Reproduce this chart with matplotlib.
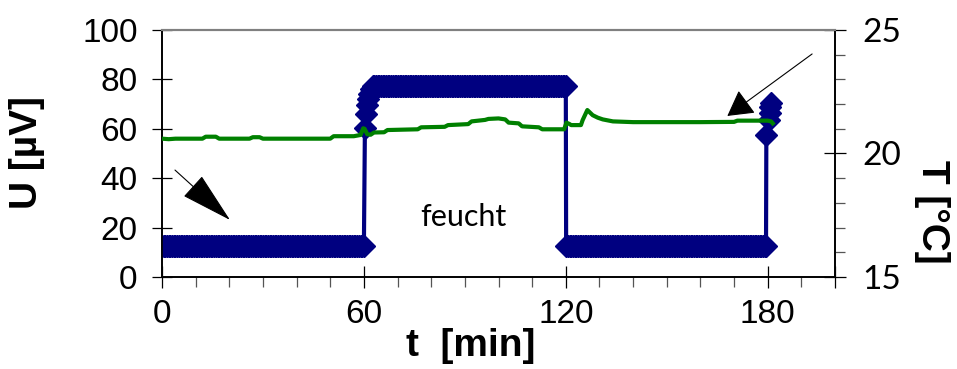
import numpy as np
import matplotlib
matplotlib.use("Agg")
import matplotlib.pyplot as plt
from matplotlib.ticker import MultipleLocator, FixedLocator

# ---- sensor signal U [µV] (dry / humid / dry cycle) ----
sample_step = 0.5            # min between logged samples
dry_level = 12.5             # µV in dry air
wet_level = 77.5             # µV in humid air
dry1_span = (0.0, 60.0)
wet_span = (62.6, 120.0)
dry2_span = (120.1, 179.5)
rise_t = [60.3, 60.6, 60.9, 61.2, 61.5, 62.0]
rise_u = [60.5, 66.0, 69.5, 72.0, 74.0, 76.0]
end_t = [179.6, 180.4, 180.6, 180.8, 181.0]
end_u = [57.5, 63.5, 66.5, 69.0, 70.5]

# ---- temperature T [°C] ----
temp_t = [0, 2, 4, 12, 13, 16, 17, 26, 27, 29, 30, 50, 51, 57, 59, 59.8, 60.2,
          61, 62, 63, 66, 67, 76, 77, 84, 85, 91, 92, 96, 97, 100, 102, 103,
          106, 107, 112, 113, 119.5, 120.2, 121, 121.6, 124.5, 125, 126.4, 128,
          129.5, 131, 134, 140, 150, 160, 170, 171, 180, 181, 181.5]
temp_c = [20.6, 20.58, 20.6, 20.6, 20.68, 20.68, 20.6, 20.6, 20.66, 20.66, 20.6,
          20.6, 20.7, 20.7, 20.75, 21.02, 21.0, 20.78, 20.76, 20.85, 20.86,
          20.95, 20.98, 21.06, 21.08, 21.15, 21.19, 21.3, 21.36, 21.4, 21.42,
          21.38, 21.25, 21.22, 21.1, 21.06, 20.98, 20.98, 21.25, 21.2, 21.15,
          21.15, 21.35, 21.76, 21.55, 21.45, 21.38, 21.3, 21.27, 21.27, 21.27,
          21.28, 21.33, 21.33, 21.3, 21.22]

x_ticks = [0, 60, 120, 180]
x_ticklabels = ["0", "60", "120", "180"]
u_ticks = [0, 20, 40, 60, 80, 100]
t_ticks = [15, 20, 25]


def hold(span, level):
    ts = np.arange(span[0], span[1] + 1e-9, sample_step)
    if ts[-1] < span[1]:
        ts = np.append(ts, span[1])
    return ts, np.full(ts.shape, level)


segs = [hold(dry1_span, dry_level),
        (np.array(rise_t), np.array(rise_u)),
        hold(wet_span, wet_level),
        hold(dry2_span, dry_level),
        (np.array(end_t), np.array(end_u))]
u_time = np.concatenate([s[0] for s in segs])
u_vals = np.concatenate([s[1] for s in segs])

W, H = 957, 369
fig = plt.figure(figsize=(W / 100, H / 100), dpi=100)
L, R, B, T = 162, 835, 277, 30
ax = fig.add_axes([L / W, (H - B) / H, (R - L) / W, (B - T) / H])

navy = "#000080"
ax.plot(u_time, u_vals, color=navy, lw=3, marker="D", ms=11,
        mec=navy, mfc=navy, mew=1, zorder=3, solid_joinstyle="miter")

ax.set_xlim(0, 200)
ax.set_ylim(0, 100)

# secondary temperature axis
ax2 = ax.twinx()
ax2.plot(temp_t, temp_c, color="#008000", lw=3, zorder=4)
ax2.set_ylim(15, 25)

arial = "Liberation Sans"
round_font = ["Lato", "DejaVu Sans"]

# x axis
ax.xaxis.set_major_locator(FixedLocator(x_ticks + [200]))
ax.set_xticklabels(x_ticklabels + [""], fontsize=24, family=arial)
ax.xaxis.set_minor_locator(MultipleLocator(10))
ax.tick_params(axis="x", which="major", direction="inout", length=16,
               width=0.9, pad=8, color="black", labelcolor="black")
ax.tick_params(axis="x", which="minor", direction="out", length=7,
               width=0.9, color="#555555")

# left y axis
ax.yaxis.set_major_locator(FixedLocator(u_ticks))
ax.set_yticklabels([str(v) for v in u_ticks], fontsize=24, family=arial)
ax.tick_params(axis="y", which="major", direction="inout", length=15,
               width=0.9, pad=10, left=True, right=False)
for i, tk in enumerate(ax.yaxis.get_major_ticks()):
    if i % 2 == 1:
        tk.tick1line.set_color("#888888")

# right y axis
ax2.yaxis.set_major_locator(FixedLocator(t_ticks))
ax2.set_yticklabels([str(v) for v in t_ticks], fontsize=24, family=round_font,
                    color="black")
ax2.yaxis.set_minor_locator(MultipleLocator(1))
ax2.tick_params(axis="y", which="major", direction="inout", length=16,
                width=0.9, pad=12, color="black", labelcolor="black")
ax2.tick_params(axis="y", which="minor", direction="out", length=7,
                width=0.9, color="#555555")

for a in (ax, ax2):
    a.spines["top"].set_color("#808080")
    a.spines["top"].set_linewidth(1.5)
    for s in ("left", "right", "bottom"):
        a.spines[s].set_color("black")
        a.spines[s].set_linewidth(1.2)

# axis titles
fig.text(27 / W, 1 - 153 / H, "U [µV]", rotation=90, fontsize=28,
         fontweight="bold", family=arial, ha="center", va="center")
fig.text(471 / W, 1 - 346 / H, "t  [min]", fontsize=28,
         fontweight="bold", family=arial, ha="center", va="center")
fig.text(932 / W, 1 - 212 / H, "T [°C]", rotation=270, fontsize=28,
         fontweight="bold", family=arial, ha="center", va="center")

# annotation inside the humid phase
ax.text(463 / 3.365 - 162 / 3.365, 24.2, "feucht", fontsize=22,
        family=round_font, color="black", ha="center", va="center", zorder=5)

# arrows pointing at the two curves
ax2.annotate("", xy=(20.2, 17.31), xytext=(3.86, 19.33),
             arrowprops=dict(arrowstyle="-|>,head_length=34,head_width=9",
                             mutation_scale=1, lw=0.8, color="black",
                             shrinkA=0, shrinkB=0), zorder=6)
ax2.annotate("", xy=(168.0, 21.52), xytext=(193.2, 24.03),
             arrowprops=dict(arrowstyle="-|>,head_length=16,head_width=9",
                             mutation_scale=1, lw=0.8, color="black",
                             shrinkA=0, shrinkB=0), zorder=6)

fig.savefig("out.png", dpi=100)
